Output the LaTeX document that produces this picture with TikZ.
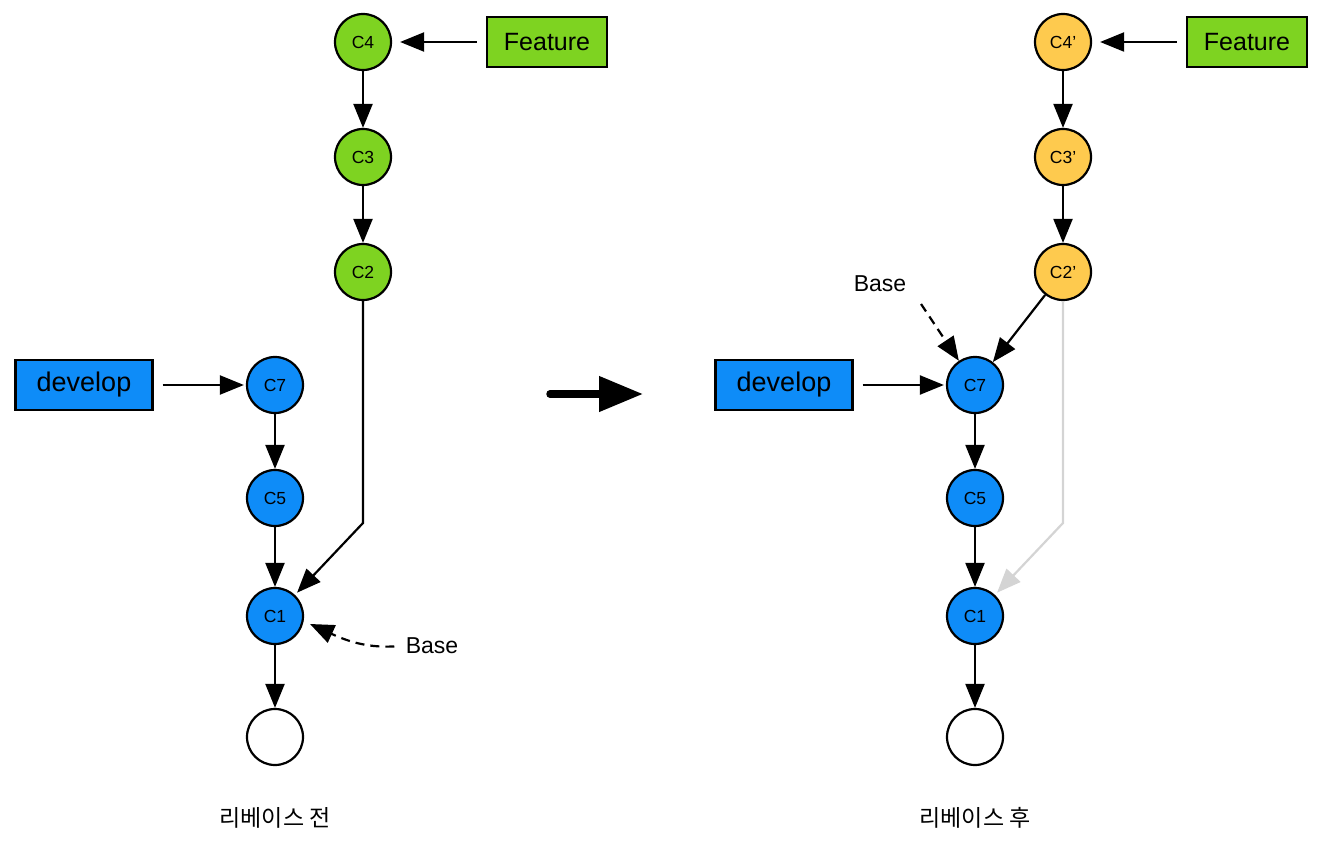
\documentclass[tikz,border=0pt]{standalone}
\usepackage{fontspec}
\setmainfont{Liberation Sans}
\newfontfamily\kr{Noto Sans CJK KR}
\usetikzlibrary{arrows.meta}
\definecolor{cgreen}{RGB}{126,211,33}
\definecolor{cblue}{RGB}{14,140,248}
\definecolor{cyellow}{RGB}{254,202,78}
\definecolor{cgray}{RGB}{212,212,212}
\tikzset{
  commit/.style={circle, draw, line width=2.2pt, minimum size=56pt, inner sep=0pt,
    font=\fontsize{17.5}{17.5}\selectfont},
  branchbox/.style={draw, line width=2.2pt, inner sep=0pt, minimum height=50pt},
  link/.style={line width=2.2pt, -{Triangle[length=24pt,width=19pt]}},
  baselink/.style={link, dash pattern=on 9pt off 6pt},
  oldlink/.style={link, draw=cgray},
  caption/.style={font=\kr\fontsize{23}{23}\selectfont},
  basetext/.style={font=\fontsize{23}{23}\selectfont}
}
\begin{document}
\begin{tikzpicture}[x=1pt,y=-1pt]
\useasboundingbox (0,0) rectangle (1338,866);

% ---- before rebase ----
\node[commit, fill=cgreen] (c4) at (363,42) {C4};
\node[commit, fill=cgreen] (c3) at (363,157) {C3};
\node[commit, fill=cgreen] (c2) at (363,272) {C2};
\node[commit, fill=cblue] (c7) at (275,385) {C7};
\node[commit, fill=cblue] (c5) at (275,498) {C5};
\node[commit, fill=cblue] (c1) at (275,616) {C1};
\node[commit, fill=white] (c0) at (275,737) {};
\node[branchbox, fill=cgreen, minimum width=120pt, font=\fontsize{25}{25}\selectfont] (feat) at (547,42) {Feature};
\node[branchbox, fill=cblue, minimum width=137pt, font=\fontsize{27}{27}\selectfont] (dev) at (84,385) {develop};
\node[basetext] (base) at (432,646) {Base};
\coordinate (bend) at (363,523);

\draw[link, shorten <=9pt, shorten >=8pt] (feat) -- (c4);
\draw[link] (c4) -- (c3);
\draw[link] (c3) -- (c2);
\draw[link, shorten <=9pt, shorten >=2pt] (dev) -- (c7);
\draw[link] (c7) -- (c5);
\draw[link] (c5) -- (c1);
\draw[link] (c1) -- (c0);
\draw[link, shorten >=3pt] (c2) -- (bend) -- (c1);
\draw[baselink, shorten <=8pt] (base.west) .. controls (365,648) and (345,640) .. (310,624);

% transition arrow
\coordinate (ta) at (550,394);
\coordinate (tb) at (643,394);
\draw[line width=7.5pt, line cap=round, -{Triangle[length=44pt,width=34pt]}] (ta) -- (tb);

% ---- after rebase ----
\node[commit, fill=cyellow] (d4) at (1063,42) {C4’};
\node[commit, fill=cyellow] (d3) at (1063,157) {C3’};
\node[commit, fill=cyellow] (d2) at (1063,272) {C2’};
\node[commit, fill=cblue] (d7) at (975,385) {C7};
\node[commit, fill=cblue] (d5) at (975,498) {C5};
\node[commit, fill=cblue] (d1) at (975,616) {C1};
\node[commit, fill=white] (d0) at (975,737) {};
\node[branchbox, fill=cgreen, minimum width=120pt, font=\fontsize{25}{25}\selectfont] (feat2) at (1247,42) {Feature};
\node[branchbox, fill=cblue, minimum width=137pt, font=\fontsize{27}{27}\selectfont] (dev2) at (784,385) {develop};
\node[basetext] (base2) at (880,284) {Base};
\coordinate (bend2) at (1063,523);
\coordinate (bs2) at (921,304);

\draw[oldlink, shorten >=3pt] (d2) -- (bend2) -- (d1);
\draw[link, shorten <=9pt, shorten >=8pt] (feat2) -- (d4);
\draw[link] (d4) -- (d3);
\draw[link] (d3) -- (d2);
\draw[link] (d2) -- (d7);
\draw[link, shorten <=9pt, shorten >=2pt] (dev2) -- (d7);
\draw[link] (d7) -- (d5);
\draw[link] (d5) -- (d1);
\draw[link] (d1) -- (d0);
\draw[baselink] (bs2) -- (d7);

% captions
\node[caption] (cap1) at (275,818) {리베이스 전};
\node[caption] (cap2) at (975,818) {리베이스 후};
\end{tikzpicture}
\end{document}
